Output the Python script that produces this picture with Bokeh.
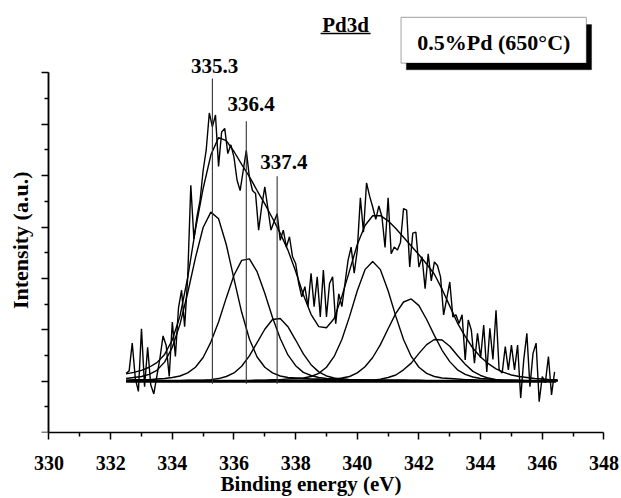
import math
from bokeh.plotting import figure
from bokeh.models import Range1d, FixedTicker, Label, BoxAnnotation, LinearAxis
from bokeh.embed import file_html
from bokeh.resources import INLINE

# ---------------- data ----------------
ENERGY_RAW = [
    332.5, 332.6, 332.7, 332.8, 332.9, 333.0, 333.1, 333.2, 333.3, 333.4,
    333.5, 333.6, 333.7, 333.8, 333.9, 334.0, 334.1, 334.2, 334.3, 334.4,
    334.5, 334.6, 334.7, 334.8, 334.9, 335.0, 335.1, 335.2, 335.3, 335.4,
    335.5, 335.6, 335.7, 335.8, 335.9, 336.0, 336.1, 336.2, 336.3, 336.4,
    336.5, 336.6, 336.7, 336.8, 336.9, 337.0, 337.1, 337.2, 337.3, 337.4,
    337.5, 337.6, 337.7, 337.8, 337.9, 338.0, 338.1, 338.2, 338.3, 338.4,
    338.5, 338.6, 338.7, 338.8, 338.9, 339.0, 339.1, 339.2, 339.3, 339.4,
    339.5, 339.6, 339.7, 339.8, 339.9, 340.0, 340.1, 340.2, 340.3, 340.4,
    340.5, 340.6, 340.7, 340.8, 340.9, 341.0, 341.1, 341.2, 341.3, 341.4,
    341.5, 341.6, 341.7, 341.8, 341.9, 342.0, 342.1, 342.2, 342.3, 342.4,
    342.5, 342.6, 342.7, 342.8, 342.9, 343.0, 343.1, 343.2, 343.3, 343.4,
    343.5, 343.6, 343.7, 343.8, 343.9, 344.0, 344.1, 344.2, 344.3, 344.4,
    344.5, 344.6, 344.7, 344.8, 344.9, 345.0, 345.1, 345.2, 345.3, 345.4,
    345.5, 345.6, 345.7, 345.8, 345.9, 346.0, 346.1, 346.2, 346.3, 346.4,
]
INTENSITY_RAW = [
    1.15, 1.20, 1.74, 1.05, 0.80, 2.02, 0.89, 1.66, 0.93, 0.75,
    1.10, 1.45, 1.88, 1.70, 1.09, 2.15, 1.48, 2.42, 2.77, 2.06,
    3.03, 4.81, 3.77, 4.20, 4.52, 5.10, 5.50, 6.22, 5.95, 6.18,
    5.18, 5.85, 5.92, 5.43, 5.60, 5.36, 4.91, 4.71, 5.10, 5.49,
    4.97, 4.71, 4.65, 3.94, 4.40, 4.78, 4.36, 3.94, 4.10, 4.26,
    3.74, 3.94, 3.61, 3.81, 3.42, 3.29, 2.90, 2.64, 2.84, 2.45,
    3.10, 2.45, 3.03, 2.25, 3.16, 2.25, 2.90, 3.03, 2.12, 2.70,
    2.45, 2.90, 3.35, 3.61, 3.10, 3.55, 4.57, 3.90, 4.86, 4.60,
    4.39, 4.15, 4.41, 4.20, 3.60, 4.57, 3.48, 3.61, 3.55, 3.70,
    4.36, 4.33, 3.22, 3.88, 3.90, 3.22, 3.42, 2.80, 3.48, 2.95,
    3.32, 3.25, 3.03, 2.29, 2.60, 2.93, 2.25, 2.29, 2.12, 2.29,
    1.41, 2.19, 1.99, 1.35, 1.93, 1.45, 2.09, 1.18, 2.03, 1.42,
    2.38, 1.22, 1.16, 1.67, 1.22, 1.70, 1.22, 1.70, 0.67, 1.42,
    1.93, 0.89, 1.54, 1.74, 0.60, 1.09, 0.97, 1.48, 0.73, 1.18,
]

ENERGY_FIT = [
    332.50, 332.75, 333.00, 333.25, 333.50, 333.75, 334.00, 334.25, 334.50, 334.75,
    335.00, 335.25, 335.50, 335.75, 336.00, 336.25, 336.50, 336.75, 337.00, 337.25,
    337.50, 337.75, 338.00, 338.25, 338.50, 338.75, 339.00, 339.25, 339.50, 339.75,
    340.00, 340.25, 340.50, 340.75, 341.00, 341.25, 341.50, 341.75, 342.00, 342.25,
    342.50, 342.75, 343.00, 343.25, 343.50, 343.75, 344.00, 344.25, 344.50, 344.75,
    345.00, 345.25, 345.50, 345.75, 346.00, 346.25, 346.50,
]
ENVELOPE = [
    1.14, 1.17, 1.21, 1.27, 1.36, 1.52, 1.80, 2.27, 3.02, 3.95,
    4.75, 5.40, 5.74, 5.68, 5.47, 5.22, 4.98, 4.71, 4.45, 4.17,
    3.88, 3.55, 3.14, 2.68, 2.30, 2.06, 2.04, 2.22, 2.65, 3.15,
    3.66, 4.03, 4.22, 4.22, 4.12, 3.97, 3.80, 3.63, 3.46, 3.28,
    3.08, 2.79, 2.46, 2.13, 1.87, 1.64, 1.47, 1.34, 1.24, 1.17,
    1.12, 1.09, 1.07, 1.05, 1.04, 1.03, 1.03,
]
PEAK_335_3 = [
    1.05, 1.07, 1.09, 1.13, 1.21, 1.37, 1.66, 2.11, 2.72, 3.40,
    3.99, 4.29, 4.16, 3.66, 2.99, 2.34, 1.82, 1.47, 1.27, 1.16,
    1.10, 1.07, 1.06, 1.05, 1.04, 1.04, 1.03, 1.03, 1.03, 1.02,
    1.02, 1.02, 1.02, 1.02, 1.02, 1.02, 1.02, 1.01, 1.01, 1.01,
    1.01, 1.01, 1.01, 1.01, 1.01, 1.01, 1.01, 1.01, 1.01, 1.01,
    1.01, 1.01, 1.01, 1.01, 1.01, 1.01, 1.01,
]
PEAK_336_4 = [
    1.02, 1.03, 1.03, 1.03, 1.04, 1.05, 1.07, 1.10, 1.16, 1.27,
    1.46, 1.76, 2.15, 2.62, 3.06, 3.35, 3.38, 3.13, 2.71, 2.24,
    1.83, 1.51, 1.30, 1.17, 1.11, 1.07, 1.05, 1.04, 1.04, 1.03,
    1.03, 1.02, 1.02, 1.02, 1.02, 1.02, 1.02, 1.02, 1.02, 1.01,
    1.01, 1.01, 1.01, 1.01, 1.01, 1.01, 1.01, 1.01, 1.01, 1.01,
    1.01, 1.01, 1.01, 1.01, 1.01, 1.01, 1.01,
]
PEAK_337_4 = [
    1.01, 1.01, 1.01, 1.01, 1.01, 1.01, 1.01, 1.01, 1.02, 1.02,
    1.02, 1.03, 1.05, 1.09, 1.16, 1.29, 1.49, 1.75, 2.01, 2.20,
    2.22, 2.06, 1.80, 1.53, 1.32, 1.18, 1.10, 1.06, 1.04, 1.03,
    1.02, 1.02, 1.01, 1.01, 1.01, 1.01, 1.01, 1.01, 1.01, 1.01,
    1.01, 1.01, 1.01, 1.01, 1.01, 1.01, 1.01, 1.01, 1.01, 1.01,
    1.01, 1.01, 1.01, 1.01, 1.01, 1.01, 1.01,
]
PEAK_340_5 = [
    1.00, 1.00, 1.00, 1.00, 1.00, 1.00, 1.00, 1.00, 1.00, 1.00,
    1.01, 1.01, 1.01, 1.01, 1.01, 1.01, 1.01, 1.02, 1.02, 1.03,
    1.03, 1.04, 1.05, 1.06, 1.09, 1.15, 1.27, 1.48, 1.81, 2.26,
    2.76, 3.17, 3.33, 3.17, 2.76, 2.26, 1.81, 1.48, 1.27, 1.15,
    1.09, 1.06, 1.05, 1.04, 1.03, 1.03, 1.02, 1.02, 1.01, 1.01,
    1.01, 1.01, 1.01, 1.01, 1.01, 1.01, 1.01,
]
PEAK_341_7 = [
    1.00, 1.00, 1.00, 1.00, 1.00, 1.00, 1.00, 1.00, 1.00, 1.00,
    1.00, 1.00, 1.00, 1.00, 1.00, 1.01, 1.01, 1.01, 1.01, 1.01,
    1.01, 1.01, 1.02, 1.02, 1.02, 1.03, 1.03, 1.04, 1.06, 1.09,
    1.16, 1.28, 1.46, 1.71, 2.02, 2.32, 2.54, 2.60, 2.47, 2.20,
    1.89, 1.60, 1.38, 1.22, 1.13, 1.08, 1.05, 1.04, 1.03, 1.02,
    1.02, 1.02, 1.01, 1.01, 1.01, 1.01, 1.01,
]
PEAK_342_6 = [
    1.00, 1.00, 1.00, 1.00, 1.00, 1.00, 1.00, 1.00, 1.00, 1.00,
    1.00, 1.00, 1.00, 1.00, 1.00, 1.00, 1.00, 1.00, 1.00, 1.00,
    1.00, 1.00, 1.00, 1.00, 1.00, 1.00, 1.00, 1.00, 1.01, 1.01,
    1.01, 1.02, 1.02, 1.04, 1.07, 1.12, 1.22, 1.35, 1.54, 1.71,
    1.81, 1.80, 1.68, 1.50, 1.33, 1.19, 1.11, 1.06, 1.03, 1.02,
    1.02, 1.01, 1.01, 1.01, 1.01, 1.01, 1.01,
]
COMPONENTS = [PEAK_335_3, PEAK_336_4, PEAK_337_4, PEAK_340_5, PEAK_341_7, PEAK_342_6]

BASELINE_E = [332.5, 346.45]
BASELINE_I = [1.0, 1.0]

PEAK_POS = [335.3, 336.4, 337.4]
PEAK_LINE_TOP = [6.89, 6.06, 4.99]
PEAK_LINE_BOTTOM = [0.95, 0.95, 0.95]
PEAK_LABELS = ["335.3", "336.4", "337.4"]

X_TICKS = [330, 332, 334, 336, 338, 340, 342, 344, 346, 348]
X_MINOR = [331, 333, 335, 337, 339, 341, 343, 345, 347]
Y_TICKS = [0, 1, 2, 3, 4, 5, 6, 7]
Y_MINOR = [0.5, 1.5, 2.5, 3.5, 4.5, 5.5, 6.5]

TITLE_TEXT = "Pd3d"
SAMPLE_TEXT = "0.5%Pd (650\u00b0C)"
X_LABEL = "Binding energy (eV)"
Y_LABEL = "Intensity (a.u.)"

# ---------------- layout / style ----------------
FONT = "Liberation Serif"
INK = "black"
LW = 1.4

# frame spans the whole width; the y axis sits at x = 330 inside it
X_VIEW = (328.427, 348.57)
Y_VIEW = (0.0, 8.409)

PEAK_LABEL_X = [335.37, 336.56, 337.62]
PEAK_LABEL_Y = [7.126, 6.403, 5.263]

p = figure(
    width=621, height=498,
    x_range=Range1d(*X_VIEW), y_range=Range1d(*Y_VIEW),
    output_backend="svg", toolbar_location=None,
    min_border_left=0, min_border_right=0,
    min_border_top=0, min_border_bottom=65,
)
p.outline_line_color = None
p.xgrid.visible = False
p.ygrid.visible = False
p.background_fill_color = "white"
p.border_fill_color = "white"

# x axis
xa = p.xaxis[0]
xa.ticker = FixedTicker(ticks=X_TICKS, minor_ticks=X_MINOR)
xa.bounds = (X_TICKS[0], X_TICKS[-1])
xa.axis_line_width = 1.5
xa.axis_line_color = INK
xa.major_tick_line_width = 1.5
xa.minor_tick_line_width = 1.5
xa.major_tick_in = 0
xa.major_tick_out = 7
xa.minor_tick_in = 0
xa.minor_tick_out = 4
xa.major_label_text_font = FONT
xa.major_label_text_font_style = "bold"
xa.major_label_text_font_size = "20px"
xa.major_label_text_color = INK
xa.major_label_standoff = 16
xa.axis_label = X_LABEL
xa.axis_label_text_font = FONT
xa.axis_label_text_font_style = "bold"
xa.axis_label_text_font_size = "21px"
xa.axis_label_text_color = INK
xa.axis_label_standoff = -1


def style_y(axis, ticks, length):
    # unlabelled y axis pinned at x = 330; tick marks only
    axis.fixed_location = X_TICKS[0]
    axis.ticker = FixedTicker(ticks=[], minor_ticks=ticks)
    axis.bounds = (Y_TICKS[0], Y_TICKS[-1])
    axis.axis_line_width = 1.5
    axis.axis_line_color = INK
    axis.minor_tick_line_width = 1.5
    axis.minor_tick_line_color = INK
    axis.minor_tick_in = 0
    axis.minor_tick_out = length
    axis.major_tick_line_color = None


style_y(p.yaxis[0], Y_TICKS, 7)
ya_minor = LinearAxis()
style_y(ya_minor, Y_MINOR, 4)
p.add_layout(ya_minor, "left")

p.add_layout(Label(x=329.076, y=3.742, text=Y_LABEL, angle=math.pi / 2,
                   text_align="center", text_baseline="middle",
                   text_font=FONT, text_font_style="bold",
                   text_font_size="22px", text_color=INK))

# curves
p.line(BASELINE_E, BASELINE_I, line_color=INK, line_width=3)
for comp in COMPONENTS:
    p.line(ENERGY_FIT, comp, line_color=INK, line_width=LW)
p.line(ENERGY_FIT, ENVELOPE, line_color=INK, line_width=LW)
p.line(ENERGY_RAW, INTENSITY_RAW, line_color=INK, line_width=LW)
p.segment(x0=PEAK_POS, y0=PEAK_LINE_BOTTOM, x1=PEAK_POS, y1=PEAK_LINE_TOP,
          line_color="#333333", line_width=1.1)

for lx, ly, txt in zip(PEAK_LABEL_X, PEAK_LABEL_Y, PEAK_LABELS):
    p.add_layout(Label(x=lx, y=ly, text=txt, text_align="center",
                       text_baseline="middle", text_font=FONT,
                       text_font_style="bold", text_font_size="21px",
                       text_color=INK))

# "Pd3d" underlined title
p.add_layout(Label(x=339.62, y=7.928, text=TITLE_TEXT, text_align="center",
                   text_baseline="middle", text_font=FONT,
                   text_font_style="bold", text_font_size="21px",
                   text_color=INK))
p.segment(x0=[338.81], y0=[7.769], x1=[340.43], y1=[7.769],
          line_color=INK, line_width=1.5)

# sample box with drop shadow
p.add_layout(BoxAnnotation(left=341.59, right=347.60, top=7.94, bottom=7.06,
                           fill_color=INK, fill_alpha=1.0, line_color=INK))
p.add_layout(BoxAnnotation(left=341.42, right=347.43, top=8.08, bottom=7.19,
                           fill_color="white", fill_alpha=1.0,
                           line_color=INK, line_width=1.2))
p.add_layout(Label(x=344.43, y=7.594, text=SAMPLE_TEXT, text_align="center",
                   text_baseline="middle", text_font=FONT,
                   text_font_style="bold", text_font_size="22px",
                   text_color=INK))

open("out.html", "w").write(file_html(p, INLINE))
